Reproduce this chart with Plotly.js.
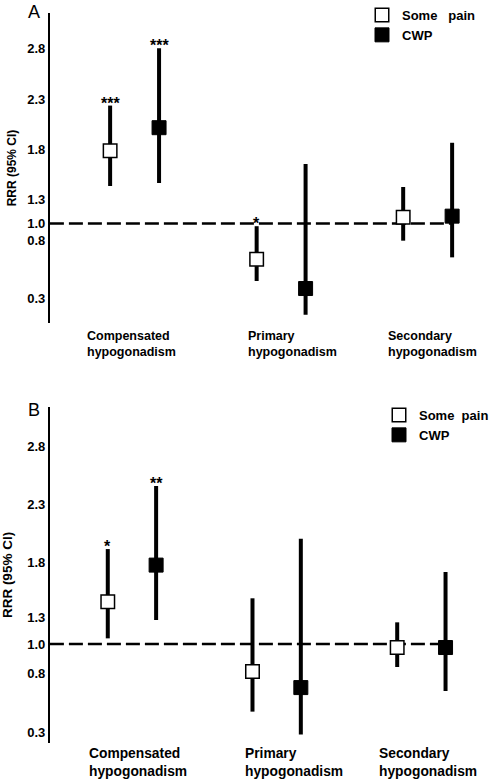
<!DOCTYPE html>
<html>
<head>
<meta charset="utf-8">
<script src="https://cdn.plot.ly/plotly-3.0.1.min.js"></script>
<style>html,body{margin:0;padding:0;background:#fff;}#chart{width:494px;height:781px;}</style>
</head>
<body>
<div id="chart"></div>
<script>
// ---------- DATA (values read on each panel's vertical scale) ----------
const categories = ["Compensated hypogonadism", "Primary hypogonadism", "Secondary hypogonadism"];
const seriesNames = ["Some pain", "CWP"];
const tickLabels = ["0.3", "0.8", "1.0", "1.3", "1.8", "2.3", "2.8"];

// Panel A
const aSomeEst = [1.78, 0.70, 1.12];
const aSomeLo  = [1.43, 0.485, 0.886];
const aSomeHi  = [2.23, 1.03, 1.42];
const aCwpEst  = [2.01, 0.41, 1.13];
const aCwpLo   = [1.46, 0.15, 0.72];
const aCwpHi   = [2.80, 1.65, 1.86];
const aSomeSig = ["***", "*", ""];
const aCwpSig  = ["***", "", ""];
const aTickVals = [0.316, 0.893, 1.058, 1.30, 1.798, 2.296, 2.80];

// Panel B
const bSomeEst = [1.44, 0.83, 1.04];
const bSomeLo  = [1.12, 0.48, 0.87];
const bSomeHi  = [1.90, 1.47, 1.26];
const bCwpEst  = [1.76, 0.69, 1.04];
const bCwpLo   = [1.28, 0.28, 0.66];
const bCwpHi   = [2.45, 1.99, 1.70];
const bSomeSig = ["*", "", ""];
const bCwpSig  = ["**", "", ""];
const bTickVals = [0.300, 0.815, 1.071, 1.30, 1.781, 2.291, 2.80];

// ---------- LAYOUT / STYLE ----------
const W = 494, H = 781;
const FONT = "Liberation Sans, Arial, Helvetica, sans-serif";
const DODGE = 0.167;
const catIdx = categories.map((_, i) => i);

function px2paperY(p) { return 1 - p / H; }

const panels = [
  { key: "A", xa: "x", ya: "y", xaxis: "xaxis", yaxis: "yaxis", legend: "legend",
    some: [aSomeEst, aSomeLo, aSomeHi, aSomeSig], cwp: [aCwpEst, aCwpLo, aCwpHi, aCwpSig],
    ticks: aTickVals, yTop: 13, yBot: 323, xRange: [-0.578, 2.446], yRange: [0.067, 3.151],
    labShift: [-50, -35, -42], labSize: 12.5, titleSize: 12, standoff: 8, legendX: 362, legendY: 0,
    letterY: 12, labYShift: -4 },
  { key: "B", xa: "x2", ya: "y2", xaxis: "xaxis2", yaxis: "yaxis2", legend: "legend2",
    some: [bSomeEst, bSomeLo, bSomeHi, bSomeSig], cwp: [bCwpEst, bCwpLo, bCwpHi, bCwpSig],
    ticks: bTickVals, yTop: 407, yBot: 743, xRange: [-0.567, 2.495], yRange: [0.206, 3.141],
    labShift: [-45, -34, -44], labSize: 13.8, titleSize: 13.5, standoff: 11, legendX: 380, legendY: 400,
    letterY: 410, labYShift: -1 }
];

const traces = [];
const annotations = [];
const shapes = [];
const layout = {
  width: W, height: H,
  margin: { l: 0, r: 0, t: 0, b: 0 },
  paper_bgcolor: "#fff", plot_bgcolor: "rgba(0,0,0,0)",
  font: { family: FONT, color: "#000" },
  showlegend: true
};

panels.forEach(p => {
  const groups = [
    { name: seriesNames[0], d: p.some, off: -DODGE, fill: "#fff", size: 13.5, lw: 1.5 },
    { name: seriesNames[1], d: p.cwp, off: DODGE, fill: "#000", size: 14, lw: 1 }
  ];
  groups.forEach(g => {
    const [est, lo, hi, sig] = g.d;
    traces.push({
      type: "scatter", mode: "markers",
      x: catIdx.map(i => i + g.off), y: est,
      xaxis: p.xa, yaxis: p.ya, legend: p.legend,
      name: "<b>" + g.name.replace(" ", p.key === "A" ? "\u00a0\u00a0\u00a0" : "\u00a0\u00a0") + "</b>",
      marker: { symbol: "square", size: g.size, color: g.fill, line: { color: "#000", width: g.lw } },
      error_y: { type: "data", symmetric: false,
        array: hi.map((h, i) => h - est[i]), arrayminus: lo.map((l, i) => est[i] - l),
        color: "#000", thickness: 4, width: 0 },
      hoverinfo: "skip", cliponaxis: false
    });
    sig.forEach((s, i) => {
      if (!s) return;
      annotations.push({ xref: p.xa, yref: p.ya, x: i + g.off, y: hi[i], text: "<b>" + s + "</b>",
        showarrow: false, yanchor: "bottom", yshift: -8, font: { size: 16, family: FONT } });
    });
  });

  const dom = [px2paperY(p.yBot), px2paperY(p.yTop)];
  layout[p.xaxis] = { domain: [50 / W, 1], range: p.xRange, visible: false, anchor: p.ya, fixedrange: true };
  layout[p.yaxis] = {
    domain: dom, range: p.yRange, anchor: p.xa,
    showline: true, linecolor: "#000", linewidth: 2, ticks: "", showgrid: false, zeroline: false,
    tickmode: "array", tickvals: p.ticks, ticktext: tickLabels,
    tickfont: { size: 13, weight: "bold", family: FONT },
    title: { text: "RRR (95% CI)", font: { size: p.titleSize, weight: "bold", family: FONT }, standoff: p.standoff },
    fixedrange: true
  };
  layout[p.legend] = {
    x: p.legendX / W, y: px2paperY(p.legendY), xanchor: "left", yanchor: "top",
    xref: "paper", yref: "paper", bgcolor: "rgba(0,0,0,0)", borderwidth: 0,
    font: { size: 13, family: FONT }, tracegroupgap: 0
  };

  // reference line at RRR = 1.0
  const refY = p.ticks[tickLabels.indexOf("1.0")];
  shapes.push({ type: "line", xref: p.xa, yref: p.ya, layer: "below",
    x0: p.xRange[0], x1: 2 + DODGE, y0: refY, y1: refY,
    line: { color: "#000", width: 2.5, dash: "14px,5px" } });

  // category labels
  categories.forEach((c, i) => {
    annotations.push({ xref: p.xa, yref: "paper", x: i, y: dom[0], xanchor: "left", yanchor: "top",
      xshift: p.labShift[i], yshift: p.labYShift, align: "left", showarrow: false,
      text: "<b>" + c.replace(" ", "<br>") + "</b>", font: { size: p.labSize, family: FONT } });
  });

  // panel letter
  annotations.push({ xref: "paper", yref: "paper", x: 26 / W, y: px2paperY(p.letterY),
    xanchor: "left", yanchor: "middle", showarrow: false, text: p.key,
    font: { size: 18, family: FONT } });
});

layout.annotations = annotations;
layout.shapes = shapes;

Plotly.newPlot("chart", traces, layout, { displayModeBar: false, staticPlot: true });
</script>
</body>
</html>
